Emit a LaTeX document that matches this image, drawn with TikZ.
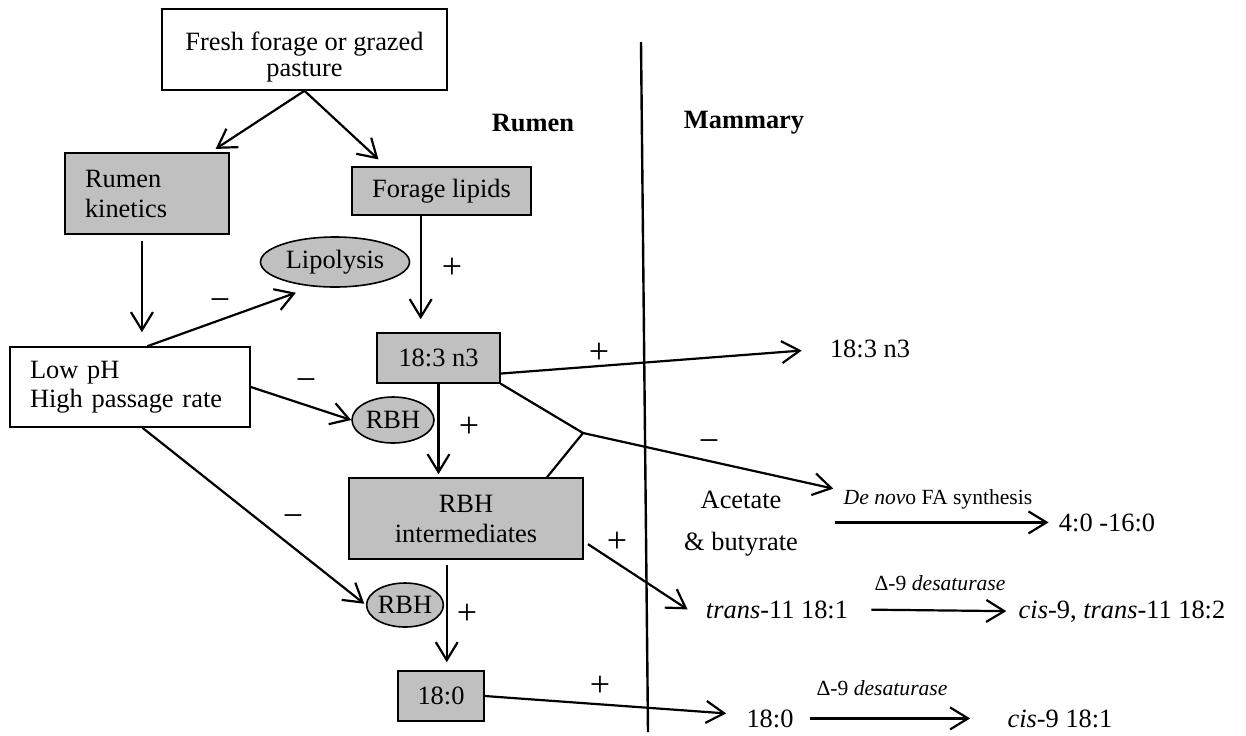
\documentclass[tikz,border=0pt]{standalone}
\usepackage{fontspec}
\setmainfont{Liberation Serif}
\usetikzlibrary{arrows.meta,shapes.geometric,calc}
\definecolor{boxgrey}{RGB}{192,192,192}

\begin{document}
\begin{tikzpicture}[x=0.5pt,y=-0.5pt,
  font=\fontsize{13.2}{14.5}\selectfont,
  greybox/.style={draw,line width=0.8pt,fill=boxgrey,inner sep=0pt},
  whitebox/.style={draw,line width=0.8pt,fill=white,inner sep=0pt},
  greyoval/.style={ellipse,draw,line width=0.8pt,fill=boxgrey,inner sep=0pt},
  txt/.style={inner sep=0pt,anchor=base},
  small/.style={inner sep=0pt,anchor=base,font=\fontsize{10.8}{12}\selectfont},
  sign/.style={inner sep=0pt,font=\fontsize{18}{18}\selectfont},
  ln/.style={line width=1.1pt},
  arr/.style={line width=1.1pt,-{Straight Barb[length=9pt,width=11pt]}}]
\useasboundingbox (0,0) rectangle (1246,735);

\node[whitebox,minimum width=142.5pt,minimum height=40.5pt,align=center,
  font=\fontsize{13.2}{13}\selectfont] (pasture) at (304.5,49.5) {\rule{0pt}{16.6pt}Fresh forage or grazed\\pasture};
\node[greybox,minimum width=82pt,minimum height=40.5pt,text width=62pt,inner xsep=10pt,
  align=left,font=\fontsize{13.2}{15}\selectfont] (kinetics) at (147,193.5) {Rumen\\kinetics};
\node[greybox,minimum width=89.5pt,minimum height=24pt] (lipids) at (441.5,191) {Forage lipids};
\node[greyoval,minimum width=74.5pt,minimum height=25pt] (lipolysis) at (335,262) {Lipolysis};
\node[whitebox,minimum width=120pt,minimum height=40pt,text width=100pt,inner xsep=10pt,
  align=left] (lowph) at (130,387) {Low pH\\High passage rate};
\node[greybox,minimum width=61.5pt,minimum height=25pt] (ala) at (438.5,358) {18:3 n3};
\node[greyoval,minimum width=41pt,minimum height=23pt] (rbhA) at (393,420) {RBH};
\node[greybox,minimum width=117pt,minimum height=40.5pt,align=center,
  font=\fontsize{13.2}{15}\selectfont] (rbhint) at (466,518.5) {RBH\\intermediates};
\node[greyoval,minimum width=38pt,minimum height=22pt] (rbhB) at (405,605) {RBH};
\node[greybox,minimum width=43pt,minimum height=25pt] (sa) at (441,696) {18:0};
\coordinate (junc) at (583,433);

\node[inner sep=0pt,font=\fontsize{13.2}{14.5}\bfseries] (rumen) at (533,123) {Rumen};
\node[inner sep=0pt,font=\fontsize{13.2}{14.5}\bfseries] (mammary) at (744,123) {Mammary};
\draw[line width=1.2pt] (641,42) -- (648,732);

\node[txt] (mala) at (870,357) {18:3 n3};
\node[inner sep=0pt,align=center,font=\fontsize{13.2}{21}\selectfont] (acet) at (741,524) {Acetate\\\& butyrate};
\node[small] (dnlabel) at (938,504) {\textit{De nov}o FA synthesis};
\node[txt] (short) at (1107,531) {4:0 -16:0};
\node[txt] (vacc) at (777,618) {\textit{trans}-11 18:1};
\node[small] (desatA) at (940,590) {Δ-9 \textit{desaturase}};
\node[txt] (cla) at (1122,618) {\textit{cis}-9, \textit{trans}-11 18:2};
\node[txt] (msa) at (770,727) {18:0};
\node[small] (desatB) at (882,695) {Δ-9 \textit{desaturase}};
\node[txt] (olei) at (1060,727) {\textit{cis}-9 18:1};

\draw[arr,shorten >=3pt] (pasture.south) -- (kinetics.33);
\draw[arr,shorten >=5pt] (pasture.south) -- (lipids.156);
\draw[arr,shorten <=3pt,shorten >=7pt] (kinetics.263) -- (kinetics.263 |- lowph.north);
\draw[arr,shorten >=6.5pt] (lipids.230) -- (lipids.230 |- ala.north);
\draw[arr,shorten >=9pt] (lowph.67) -- (lipolysis.228);
\draw[arr] (lowph.east) -- (rbhA.west);
\draw[arr,shorten >=1.5pt] (ala.south) -- (ala.south |- rbhint.north);
\draw[arr,shorten >=14pt] (ala.346) -- (mala.west);
\draw[ln] (ala.south east) -- (junc) -- (rbhint.27);
\draw[arr] (junc) -- ($(dnlabel.north west)+(-10,0)$);
\draw[arr,shorten <=2.5pt] (rbhint.349) -- ($(vacc.west)+(-18,0)$);
\draw[arr,shorten <=2.5pt,shorten >=4pt] (rbhint.245) -- (rbhint.245 |- sa.north);
\draw[arr,shorten >=1pt] (lowph.287) -- (rbhB.west);
\draw[arr] (sa.east) -- ($(msa.west)+(-20,-5)$);
\draw[arr,shorten <=18.5pt,shorten >=5pt] (acet.east |- short.west) -- (short.west);
\draw[arr,shorten <=11.5pt,shorten >=6pt] (vacc.east) -- (cla.west);
\draw[arr,shorten <=8pt,shorten >=18.5pt] (msa.east) -- (olei.west);

\node[sign] (minA) at (220,305) {−};
\node[sign] (plusA) at (452,268) {+};
\node[sign] (minB) at (306,385) {−};
\node[sign] (plusB) at (469,427) {+};
\node[sign] (plusC) at (599,353) {+};
\node[sign] (minC) at (709,446) {−};
\node[sign] (plusD) at (617,542) {+};
\node[sign] (minD) at (293,521) {−};
\node[sign] (plusE) at (467,614) {+};
\node[sign] (plusF) at (600,686) {+};
\end{tikzpicture}
\end{document}
